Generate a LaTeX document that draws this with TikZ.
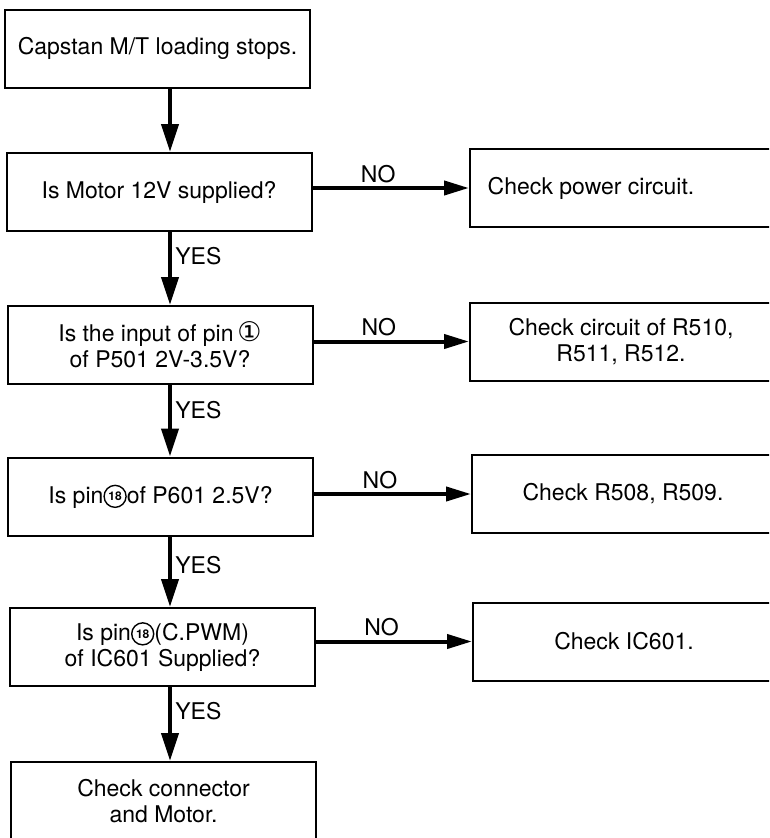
\documentclass[tikz,border=0pt]{standalone}
\usepackage{fontspec}
\setmainfont{TeX Gyre Heros}
\newfontfamily\pinfont{DejaVu Sans}
\usetikzlibrary{calc,arrows.meta}
\tikzset{>={Triangle[length=28pt,width=17pt]}}
\tikzset{box/.style={draw,line width=2pt,minimum width=305pt,minimum height=78pt,align=center,inner sep=0pt},
  rbox/.style={draw,line width=2pt,minimum width=340pt,minimum height=78pt,inner sep=0pt},
  flow/.style={->,line width=4pt},
  flowno/.style={-{Triangle[length=25pt,width=14pt]},line width=4pt}}
% circled pin number
\newcommand\pinno[1]{\tikz[baseline={([yshift=-7pt]cn.center)}]\node[draw,circle,line width=1.4pt,minimum size=22pt,inner sep=0pt,font=\bfseries\fontsize{12}{12}\selectfont] (cn) {#1};}

\begin{document}
\begin{tikzpicture}[x=1pt,y=-1pt,font=\fontsize{23}{26}\selectfont]
  \useasboundingbox (0,0) rectangle (769,838);
  \clip (0,0) rectangle (769,838);

  % left column
  \node[box] (s) at (157.5,48.5) {Capstan M/T loading stops.};
  \node[box] (q1) at (159,192) {Is Motor 12V supplied?};
  \node[box] (q2) at (160,345) {Is the input of pin\,{\pinfont\fontsize{27}{26}\selectfont ①}\\of P501 2V-3.5V?};
  \node[box] (q3) at (160.5,496.5) {Is pin\pinno{18}of P601 2.5V?};
  \node[box] (q4) at (162.5,647) {Is pin\pinno{18}(C.PWM)\\of IC601 Supplied?};
  \node[box] (e) at (163.5,801) {Check connector\\and Motor.};

  % right column
  \node[rbox] (r1) at (640,188) {};
  \node[rbox] (r2) at (640,341.5) {};
  \node[rbox] (r3) at (642,494) {};
  \node[rbox] (r4) at (643,641.5) {};
  \node (r1t) at ($(r1.west)+(122,0)$) {Check power circuit.};
  \node[align=center] (r2t) at ($(r2.west)+(152,0)$) {Check circuit of R510,\\R511, R512.};
  \node (r3t) at ($(r3.west)+(152,0)$) {Check R508, R509.};
  \node (r4t) at ($(r4.west)+(152,0)$) {Check IC601.};

  \coordinate (spine) at (170,0);

  % YES path
  \draw[flow] (s.south -| spine) -- (q1.north -| spine);
  \draw[flow] (q1.south -| spine) -- node[right,pos=0.33] (y1) {YES} (q2.north -| spine);
  \draw[flow] (q2.south -| spine) -- node[right,pos=0.35] (y2) {YES} (q3.north -| spine);
  \draw[flow] (q3.south -| spine) -- node[right,pos=0.4] (y3) {YES} (q4.north -| spine);
  \draw[flow] (q4.south -| spine) -- node[right,pos=0.33] (y4) {YES} (e.north -| spine);

  % NO path
  \draw[flowno] (q1.east |- r1.west) -- node[above,pos=0.42] (n1) {NO} (r1.west);
  \draw[flowno] (q2.east |- r2.west) -- node[above,pos=0.42] (n2) {NO} (r2.west);
  \draw[flowno] (q3.east |- r3.west) -- node[above,pos=0.42] (n3) {NO} (r3.west);
  \draw[flowno] (q4.east |- r4.west) -- node[above,pos=0.42] (n4) {NO} (r4.west);

\end{tikzpicture}
\end{document}
